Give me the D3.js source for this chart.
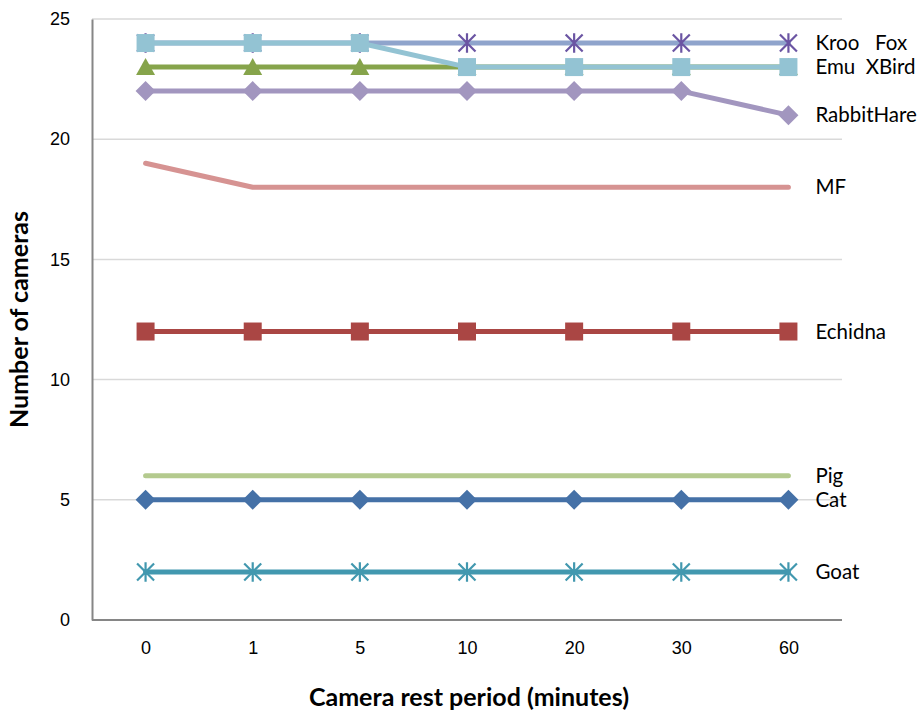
<!DOCTYPE html>
<html>
<head>
<meta charset="utf-8">
<script src="https://cdn.jsdelivr.net/npm/d3@7"></script>
<style>
  html, body { margin: 0; padding: 0; background: #fff; }
  svg { display: block; font-family: "Liberation Sans Narrow", Lato, "Open Sans", sans-serif; }
</style>
</head>
<body>
<svg id="chart" width="923" height="715"></svg>
<script>
// Camera rest period categories (minutes)
const restPeriods = ["0", "1", "5", "10", "20", "30", "60"];
const yTicks = [0, 5, 10, 15, 20, 25];

// Number of cameras detecting each species, per rest period
const cat        = [5, 5, 5, 5, 5, 5, 5];
const goat       = [2, 2, 2, 2, 2, 2, 2];
const pig        = [6, 6, 6, 6, 6, 6, 6];
const echidna    = [12, 12, 12, 12, 12, 12, 12];
const mf         = [19, 18, 18, 18, 18, 18, 18];
const rabbitHare = [22, 22, 22, 22, 22, 22, 21];
const krooFox    = [24, 24, 24, 24, 24, 24, 24];
const emu        = [23, 23, 23, 23, 23, 23, 23];
const xBird      = [24, 24, 24, 23, 23, 23, 23];

// End-of-line labels: text and the value it sits beside
const endLabels = [
  { text: "Kroo   Fox", value: 24 },
  { text: "Emu  XBird", value: 23 },
  { text: "RabbitHare", value: 21 },
  { text: "MF", value: 18 },
  { text: "Echidna", value: 12 },
  { text: "Pig", value: 6 },
  { text: "Cat", value: 5 },
  { text: "Goat", value: 2 }
];

// Drawing order (later series on top), with style
const series = [
  { name: "Cat",        values: cat,        color: "#4571A7", marker: "diamond" },
  { name: "Goat",       values: goat,       color: "#4298AF", marker: "star" },
  { name: "Pig",        values: pig,        color: "#B4CA8E", marker: null },
  { name: "Echidna",    values: echidna,    color: "#AA4644", marker: "square" },
  { name: "MF",         values: mf,         color: "#D69392", marker: null },
  { name: "RabbitHare", values: rabbitHare, color: "#A296BF", marker: "diamond" },
  { name: "Kroo Fox",   values: krooFox,    color: "#8FA4CC", marker: "star", markerColor: "#6B55A3" },
  { name: "Emu",        values: emu,        color: "#86A44B", marker: "triangle" },
  { name: "XBird",      values: xBird,      color: "#93C3D3", marker: "square" }
];

const svg = d3.select("#chart");
const margin = { left: 92, right: 81, top: 19, bottom: 95 };
const width = 923 - margin.left - margin.right;
const height = 715 - margin.top - margin.bottom;

const g = svg.append("g").attr("transform", `translate(${margin.left},${margin.top})`);

const x = d3.scalePoint().domain(restPeriods).range([0, width]).padding(0.5);
const y = d3.scaleLinear().domain([0, 25]).range([height, 0]);

// Horizontal gridlines
g.append("g")
  .selectAll("line")
  .data(yTicks.filter(d => d > 0))
  .join("line")
  .attr("x1", 0).attr("x2", width)
  .attr("y1", d => y(d)).attr("y2", d => y(d))
  .attr("stroke", "#d9d9d9").attr("stroke-width", 1.5);

// Y axis
const yAxis = g.append("g")
  .call(d3.axisLeft(y).tickValues(yTicks).tickSize(0).tickPadding(22));
yAxis.select(".domain").attr("stroke", "#868686").attr("stroke-width", 2);
yAxis.selectAll("text").attr("font-size", 18).attr("fill", "#000");

// X axis
const xAxis = g.append("g")
  .attr("transform", `translate(0,${height})`)
  .call(d3.axisBottom(x).tickSize(0).tickPadding(21));
xAxis.select(".domain").attr("stroke", "#868686").attr("stroke-width", 2)
  .attr("d", `M0,0H${width}`);
xAxis.selectAll("text").attr("font-size", 18).attr("fill", "#000");

// Axis titles
svg.append("text")
  .attr("transform", `translate(28,${margin.top + height / 2}) rotate(-90)`)
  .attr("text-anchor", "middle")
  .attr("font-size", 25).attr("font-weight", "bold")
  .text("Number of cameras");

svg.append("text")
  .attr("x", 469).attr("y", 706)
  .attr("text-anchor", "middle")
  .attr("font-size", 25).attr("font-weight", "bold")
  .text("Camera rest period (minutes)");

const line = d3.line()
  .x((d, i) => x(restPeriods[i]))
  .y(d => y(d));

series.forEach(s => {
  const sg = g.append("g");
  sg.append("path")
    .datum(s.values)
    .attr("d", line)
    .attr("fill", "none")
    .attr("stroke", s.color)
    .attr("stroke-width", 5)
    .attr("stroke-linecap", "round")
    .attr("stroke-linejoin", "round");

  if (!s.marker) return;
  const pts = sg.selectAll("g.pt")
    .data(s.values)
    .join("g")
    .attr("transform", (d, i) => `translate(${x(restPeriods[i])},${y(d)})`);

  if (s.marker === "star") {
    const mc = s.markerColor || s.color;
    const r = 8.5;
    pts.append("path")
      .attr("d", `M${-r},${-r}L${r},${r}M${-r},${r}L${r},${-r}M0,${-r * 1.15}L0,${r * 1.15}`)
      .attr("stroke", mc).attr("stroke-width", 2.2).attr("fill", "none");
  } else if (s.marker === "square") {
    pts.append("rect")
      .attr("x", -9).attr("y", -9).attr("width", 18).attr("height", 18)
      .attr("fill", s.color);
  } else if (s.marker === "diamond") {
    pts.append("path")
      .attr("d", "M0,-10L10,0L0,10L-10,0Z")
      .attr("fill", s.color);
  } else if (s.marker === "triangle") {
    pts.append("path")
      .attr("d", "M0,-9L9.5,8L-9.5,8Z")
      .attr("fill", s.color);
  }
});

// Series labels at the right end of the lines
g.append("g")
  .selectAll("text")
  .data(endLabels)
  .join("text")
  .attr("x", x(restPeriods[restPeriods.length - 1]) + 27)
  .attr("y", d => y(d.value))
  .attr("dy", "0.35em")
  .attr("font-size", 20.5)
  .attr("fill", "#000")
  .attr("xml:space", "preserve")
  .style("white-space", "pre")
  .text(d => d.text);
</script>
</body>
</html>
